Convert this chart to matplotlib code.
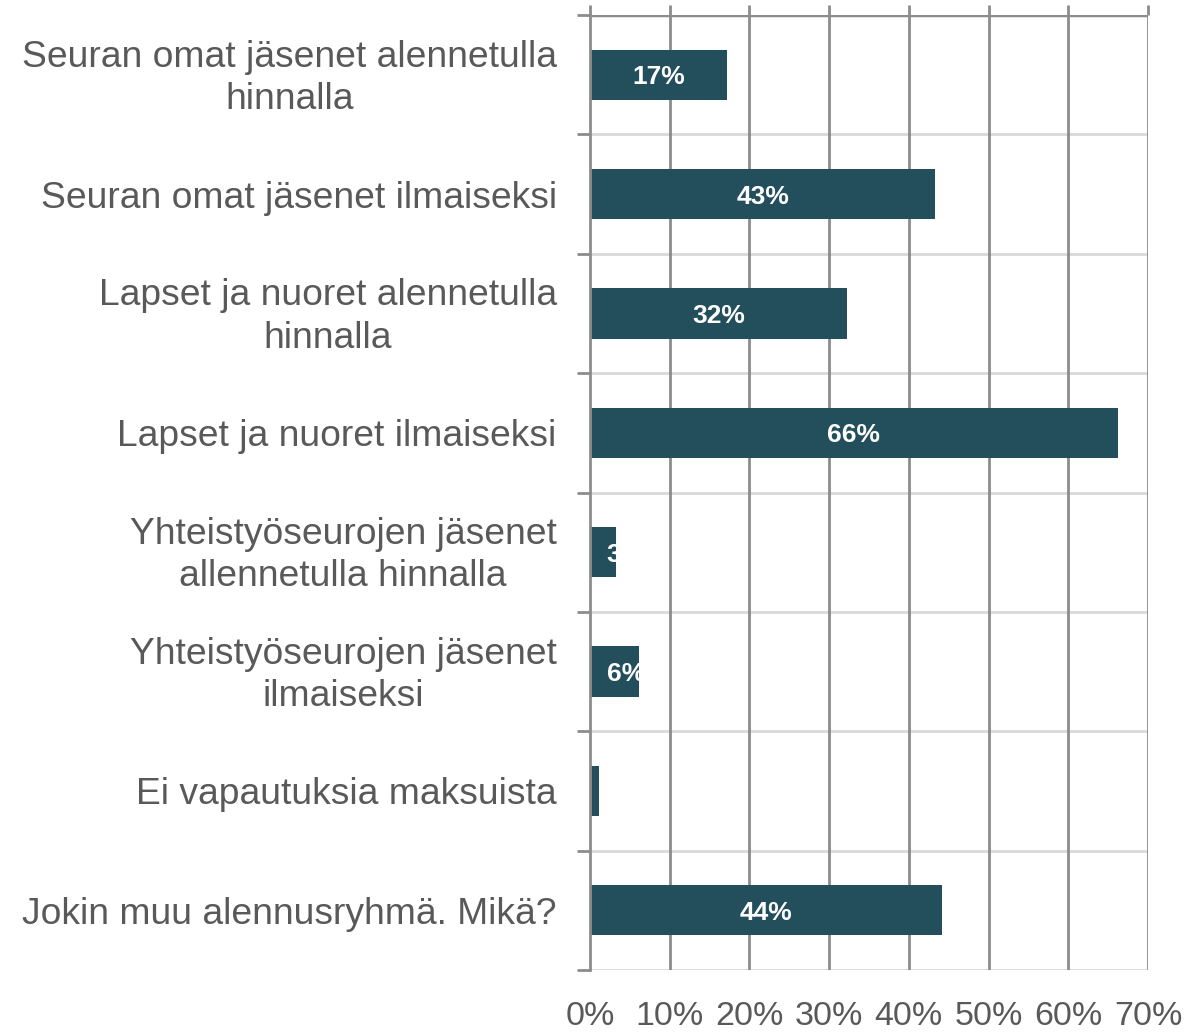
import matplotlib
matplotlib.use("Agg")
import matplotlib.pyplot as plt
import matplotlib.transforms as mtransforms
import numpy as np

categories = [
    "Seuran omat jäsenet alennetulla\nhinnalla",
    "Seuran omat jäsenet ilmaiseksi",
    "Lapset ja nuoret alennetulla\nhinnalla",
    "Lapset ja nuoret ilmaiseksi",
    "Yhteistyöseurojen jäsenet\nallennetulla hinnalla",
    "Yhteistyöseurojen jäsenet\nilmaiseksi",
    "Ei vapautuksia maksuista",
    "Jokin muu alennusryhmä. Mikä?",
]
values = [17.2, 43.3, 32.2, 66.2, 3.2, 6.1, 1.1, 44.2]
xticks = [0, 10, 20, 30, 40, 50, 60, 70]
xticklabels = ["0%", "10%", "20%", "30%", "40%", "50%", "60%", "70%"]

plt.rcParams['font.family'] = ['Liberation Sans', 'DejaVu Sans']
W, H = 1201, 1033
fig = plt.figure(figsize=(W / 100, H / 100), dpi=100)
ax = fig.add_axes([590 / W, 1 - 970 / H, (1148 - 590) / W, (970 - 15) / H])

bar_color = "#234E5C"
text_grey = "#595959"
grid_dark = "#8C8C8C"
grid_light = "#D9D9D9"

n = len(categories)
y = np.arange(n)
bars = ax.barh(y, values, height=0.42, color=bar_color, zorder=3)

ax.set_xlim(0, 70)
ax.set_ylim(n - 0.5, -0.5)

# gridlines
for xv in xticks[1:]:
    ax.axvline(xv, color=grid_dark, lw=2, zorder=1)
for i in range(n):
    ax.axhline(i + 0.5, color=grid_light, lw=2, zorder=0.5)
ax.axhline(-0.5, color=grid_dark, lw=2.5, zorder=1.5)

# spines
for s in ["top", "right", "bottom"]:
    ax.spines[s].set_visible(False)
ax.spines["left"].set_color(grid_dark)
ax.spines["left"].set_linewidth(2)
ax.spines["left"].set_zorder(4)

# x ticks: labels at bottom, tick marks at top extending upwards
ax.set_xticks(xticks)
ax.set_xticklabels(xticklabels)
ax.tick_params(axis="x", which="major", bottom=False, top=True, labelbottom=True,
               labeltop=False, direction="out", length=7.5, width=2, color=grid_dark,
               labelsize=24.5, labelcolor=text_grey, pad=15)

# y ticks
ax.set_yticks(y)
ax.set_yticklabels(categories)
ax.set_yticks(np.arange(n + 1) - 0.5, minor=True)
ax.tick_params(axis="y", which="major", length=0, labelsize=26.8, labelcolor=text_grey, pad=24)
ax.tick_params(axis="y", which="minor", length=9.5, width=2, color=grid_dark, left=True)
shift_up = mtransforms.ScaledTranslation(0, 4 / 100, fig.dpi_scale_trans)
for lab in ax.get_yticklabels():
    lab.set_multialignment("center")
    lab.set_linespacing(1.27)
    if "\n" in lab.get_text():
        lab.set_transform(lab.get_transform() + shift_up)

# bar labels, clipped to the bars
for b, v in zip(bars, values):
    xpos = max(v / 2, 4.5)
    t = ax.text(xpos, b.get_y() + b.get_height() / 2, f"{round(v)}%", ha="center",
                va="center_baseline", color="white", fontsize=19, fontweight="bold", zorder=5)
    t.set_clip_path(b)

fig.savefig("out.png", dpi=100)
